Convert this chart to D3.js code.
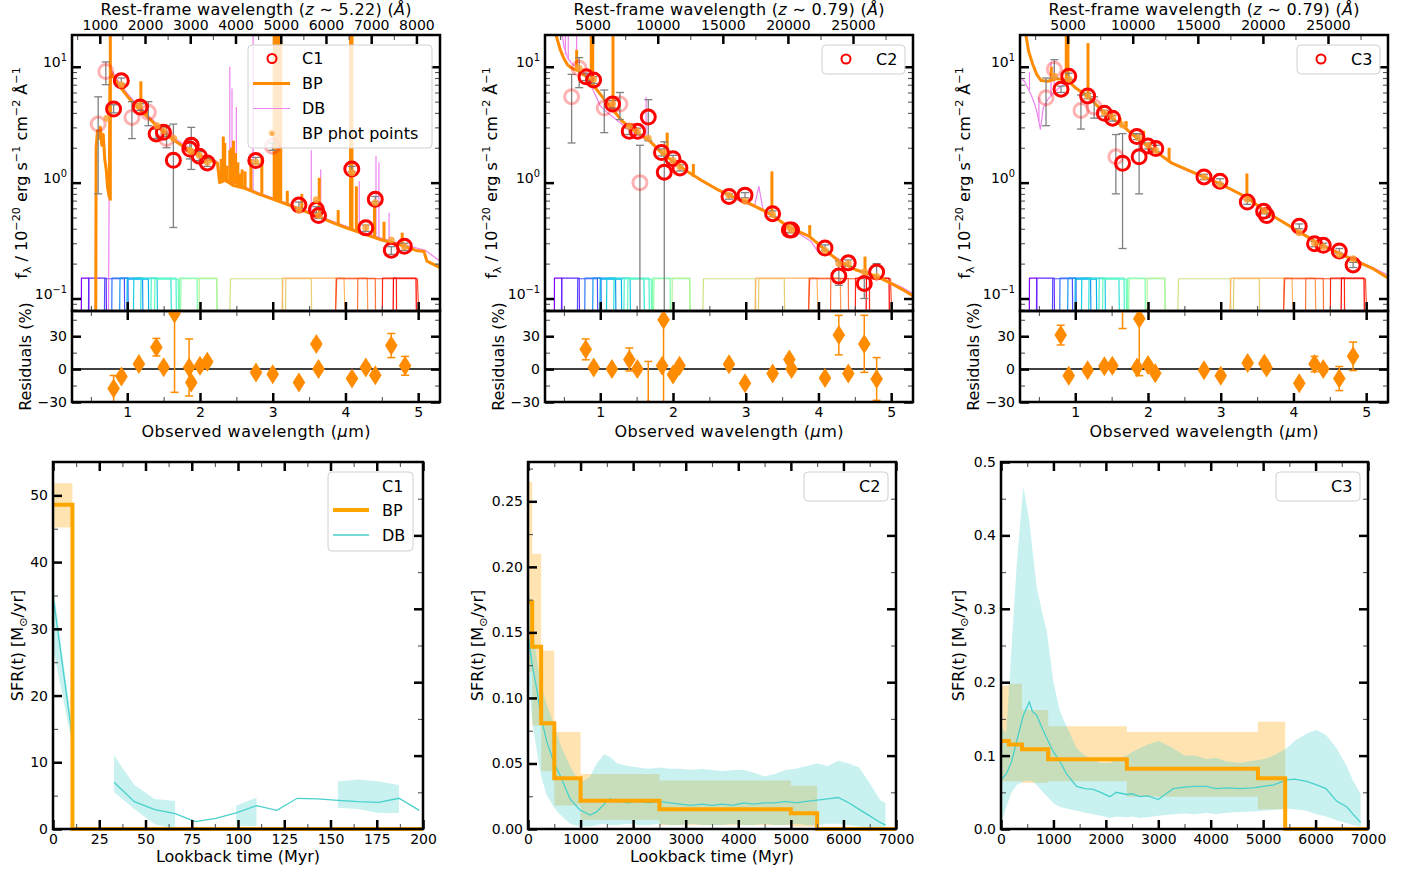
<!DOCTYPE html>
<html>
<head>
<meta charset="utf-8">
<script src="https://cdn.jsdelivr.net/npm/d3@7"></script>
<style>
  body { margin: 0; background: #fff; }
</style>
</head>
<body>
<script>
// ---------- data ----------

// photometric filter passbands (observed micron), drawn at the bottom of every SED panel
const filterBands = [[0.37,0.47],[0.47,0.71],[0.69,0.96],[0.79,1.01],[0.9,1.21],[1.0,1.29],[1.09,1.41],
  [1.19,1.6],[1.33,1.67],[1.38,1.7],[1.72,1.96],[1.74,2.23],[1.99,2.23],[2.42,3.13],[3.18,3.53],
  [3.14,3.98],[3.87,4.30],[4.17,4.41],[3.88,4.99],[4.51,4.7],[4.66,4.97]];
const filterPeak = [0.15,0.15,0.148,0.15,0.15,0.147,0.15,0.148,0.15,0.147,0.15,0.148,0.15,0.148,0.148,
  0.15,0.15,0.149,0.148,0.15,0.15];

// observed photometry: [wave um, flux, err low, err high, faded]
const c1Obs = [[0.60,3.2,0.8,5.5,1],[0.705,9.1,7.0,11.0,1],[0.812,4.32,4.0,4.7,0],[0.918,7.57,7.1,8.0,0],
  [1.064,3.65,2.4,5.0,1],[1.178,4.49,4.2,4.8,0],[1.29,4.04,3.1,5.0,1],[1.397,2.63,2.4,2.9,0],
  [1.497,2.72,2.5,3.0,0],[1.54,2.4,2.0,3.1,1],[1.634,1.56,0.41,3.2,0],[1.86,1.95,1.6,2.4,0],
  [1.88,2.1,1.3,3.0,0],[1.99,1.69,1.55,1.85,0],[2.10,1.48,1.38,1.6,0],[2.767,1.55,1.45,1.65,0],
  [2.996,2.06,1.9,2.2,1],[3.36,0.64,0.6,0.68,0],[3.60,0.585,0.55,0.62,0],[3.63,0.52,0.49,0.55,0],
  [4.087,1.31,1.24,1.38,0],[4.28,0.407,0.38,0.43,0],[4.41,0.72,0.68,0.76,0],[4.63,0.261,0.24,0.28,0],
  [4.81,0.282,0.26,0.3,0]];
const c2Obs = [[0.606,5.5,2.2,8.6,1],[0.71,9.7,6.6,12,1],[0.804,8.2,7.6,8.8,0],[0.908,7.7,7.2,8.2,0],
  [1.055,4.4,2.7,6.3,1],[1.169,4.77,4.4,5.1,0],[1.27,4.77,3.5,6.0,1],[1.398,2.77,2.6,2.95,0],
  [1.512,2.77,2.6,2.95,0],[1.545,1.0,0.01,2.1,1],[1.66,3.68,2.3,5.2,0],[1.842,1.82,1.7,1.95,0],
  [1.88,1.23,0.01,2.25,0],[2.0,1.61,1.5,1.72,0],[2.095,1.34,1.26,1.42,0],[2.77,0.76,0.72,0.8,0],
  [2.99,0.78,0.74,0.82,0],[3.37,0.54,0.51,0.57,0],[3.6,0.39,0.37,0.41,0],[3.63,0.39,0.37,0.41,0],
  [4.09,0.273,0.26,0.29,0],[4.28,0.156,0.13,0.21,0],[4.41,0.203,0.19,0.215,0],[4.63,0.135,0.1,0.17,0],
  [4.8,0.169,0.15,0.2,0]];
const c3Obs = [[0.598,5.4,3.1,8.0,1],[0.712,9.5,8.0,11.5,1],[0.804,6.4,6.0,6.8,0],[0.91,8.3,7.8,8.8,0],
  [1.078,4.2,2.9,5.7,1],[1.17,5.6,5.3,5.9,0],[1.26,4.5,3.6,5.5,1],[1.40,3.97,3.75,4.2,0],
  [1.513,3.6,3.4,3.8,0],[1.558,1.67,0.8,2.6,1],[1.65,1.47,0.27,2.65,0],[1.846,2.5,2.35,2.65,0],
  [1.878,1.67,0.8,2.6,0],[2.0,2.07,1.95,2.2,0],[2.107,1.97,1.85,2.1,0],[2.77,1.12,1.06,1.18,0],
  [2.99,1.03,0.98,1.08,0],[3.365,0.68,0.65,0.71,0],[3.59,0.565,0.54,0.59,0],[3.63,0.52,0.5,0.54,0],
  [4.08,0.42,0.4,0.44,0],[4.29,0.297,0.28,0.31,0],[4.41,0.288,0.275,0.3,0],[4.63,0.257,0.245,0.27,0],
  [4.82,0.195,0.185,0.205,0]];

// BP model photometry: [wave um, flux]
const c1BpPhot = [[0.72,3.6],[0.918,7.0],[1.16,4.6],[1.41,3.1],[1.5,2.8],[1.64,2.4],[1.86,1.9],[1.88,1.85],
  [1.99,1.72],[2.1,1.5],[2.77,1.5],[2.98,2.7],[3.36,0.58],[3.6,0.71],[3.63,0.52],[4.09,1.22],[4.28,0.41],
  [4.41,0.67],[4.63,0.32],[4.81,0.28]];
const c2BpPhot = [[0.71,9.7],[0.908,7.8],[1.169,4.8],[1.40,3.06],[1.51,2.77],[1.66,2.42],[1.87,1.82],
  [2.0,1.55],[2.095,1.37],[2.77,0.78],[2.99,0.69],[3.37,0.53],[3.6,0.41],[3.63,0.39],[4.09,0.26],
  [4.28,0.2],[4.41,0.2],[4.63,0.17],[4.8,0.155]];
const c3BpPhot = [[0.712,8.3],[0.91,7.8],[1.17,5.6],[1.4,4.0],[1.513,3.7],[1.65,3.15],[1.87,2.45],
  [2.0,2.1],[2.107,1.9],[2.77,1.12],[2.99,0.97],[3.365,0.72],[3.6,0.57],[4.08,0.37],[4.29,0.3],
  [4.41,0.28],[4.63,0.24],[4.82,0.22]];

// model spectra: continuum [wave, flux] and emission lines [wave, base, peak]
const c1BpCont = [[0.55,0.05],[0.566,0.06],[0.572,2.0],[0.59,2.8],[0.61,2.4],[0.63,3.0],[0.65,2.1],
  [0.67,2.6],[0.69,1.6],[0.71,1.3],[0.73,0.9],[0.752,0.75],[0.762,7.0],[0.78,8.8],[0.82,8.0],[0.9,6.7],
  [1.0,5.6],[1.1,4.7],[1.2,4.1],[1.3,3.6],[1.4,3.1],[1.5,2.75],[1.63,2.35],[1.8,2.0],[2.0,1.7],
  [2.15,1.55],[2.24,1.47],[2.27,1.0],[2.35,1.05],[2.45,0.95],[2.6,0.9],[2.8,0.8],[3.0,0.72],[3.14,0.67],
  [3.4,0.58],[3.6,0.52],[3.83,0.45],[4.0,0.41],[4.2,0.37],[4.5,0.32],[4.75,0.29],[4.97,0.26],
  [5.08,0.255],[5.12,0.21],[5.3,0.185]];
const c1BpLines = [[0.767,0.7,40],[0.95,6.4,7.2],[1.187,4.15,7.5],[1.27,3.8,4.6],[2.29,1.0,1.6],
  [2.32,1.03,2.5],[2.34,1.02,2.2],[2.37,1.0,1.4],[2.41,1.0,1.9],[2.43,1.0,2.0],[2.46,0.98,2.3],
  [2.49,0.97,1.8],[2.52,0.95,1.5],[2.55,0.93,1.2],[2.58,0.92,1.3],[2.62,0.9,1.25],[2.70,0.86,1.6],
  [2.85,0.8,1.7],[3.02,0.72,40],[3.05,0.71,40],[3.08,0.71,40],[3.11,0.7,40],[3.2,0.65,0.85],
  [3.4,0.58,0.8],[3.64,0.51,1.1],[3.9,0.44,0.58],[4.07,0.4,40],[4.09,0.4,40],[4.15,0.39,0.93],
  [4.4,0.34,0.65],[4.53,0.32,0.46],[4.78,0.28,0.37]];
const c1DbCont = [[0.74,0.05],[0.76,9.5],[0.8,9.0],[0.9,7.1],[1.0,5.9],[1.1,5.0],[1.2,4.3],[1.4,3.25],
  [1.63,2.45],[2.0,1.75],[2.24,1.52],[2.27,1.05],[2.5,0.98],[2.8,0.82],[3.1,0.7],[3.5,0.56],[3.8,0.47],
  [4.1,0.4],[4.5,0.33],[4.9,0.28],[5.1,0.26],[5.3,0.21]];
const c1DbLines = [[0.767,9,40],[2.41,1.0,10],[2.44,1.0,6.5],[2.5,0.98,4.5],[2.73,0.85,25],[3.02,0.72,40],
  [3.11,0.7,40],[3.53,0.55,1.9],[3.66,0.52,1.3],[4.08,0.41,40],[4.19,0.39,1.03],[4.42,0.35,1.7],
  [4.46,0.34,1.5],[4.6,0.31,0.55]];

const c2BpCont = [[0.3,40],[0.36,24],[0.4,18],[0.45,14],[0.5,11.8],[0.55,10.4],[0.6,9.8],[0.7,9.2],
  [0.8,8.3],[0.9,7.0],[1.0,5.8],[1.1,4.8],[1.17,4.3],[1.3,3.4],[1.5,2.7],[1.66,2.35],[1.85,1.8],
  [2.03,1.48],[2.16,1.29],[2.39,1.05],[2.6,0.88],[2.77,0.78],[2.99,0.69],[3.33,0.54],[3.6,0.41],
  [3.87,0.345],[4.1,0.26],[4.28,0.21],[4.51,0.177],[4.8,0.155],[5.0,0.135],[5.15,0.12],[5.3,0.105]];
const c2BpLines = [[0.675,9.4,14],[0.876,7.2,40],[0.896,7.0,40],[1.175,4.3,40],[1.92,1.65,2.7],
  [2.28,1.12,1.45],[3.36,0.53,1.25],[3.88,0.34,0.43],[4.64,0.165,0.23]];
const c2DbCont = [[0.45,24],[0.5,15],[0.55,12],[0.6,10.8],[0.7,9.6],[0.8,8.6],[0.9,6.3],[1.0,4.6],
  [1.1,4.0],[1.27,3.3],[1.4,2.8],[1.55,2.5],[1.7,2.2],[1.85,1.75],[2.05,1.45],[2.4,1.02],[2.77,0.76],
  [3.0,0.66],[3.12,0.62],[3.18,0.93],[3.24,0.58],[3.6,0.41],[3.9,0.31],[4.0,0.25],[4.2,0.235],
  [4.5,0.18],[4.8,0.155],[5.15,0.125],[5.3,0.11]];
const c2DbLines = [[0.52,12.8,40],[0.56,11.5,40],[0.675,9.4,40],[0.876,7,40],[0.896,6.8,40],
  [1.175,4.0,40],[1.63,2.3,5.5]];

const c3BpCont = [[0.28,40],[0.32,19],[0.36,13.5],[0.415,10.5],[0.47,8.6],[0.53,7.6],[0.62,7.5],
  [0.75,7.9],[0.9,7.6],[1.0,6.6],[1.17,5.6],[1.4,4.0],[1.65,3.1],[1.87,2.35],[2.1,1.87],[2.33,1.47],
  [2.55,1.28],[2.77,1.12],[3.0,0.97],[3.37,0.74],[3.6,0.57],[3.85,0.46],[4.08,0.375],[4.38,0.29],
  [4.63,0.245],[4.9,0.205],[5.1,0.18],[5.3,0.15]];
const c3BpLines = [[0.67,7.5,10],[0.876,7.6,30],[0.9,7.5,40],[1.175,5.4,16],[1.62,3.2,3.6],
  [1.7,3.0,3.4],[1.94,2.2,2.8],[2.29,1.5,2.0],[3.36,0.74,1.2]];
const c3DbCont = [[0.27,7.8],[0.3,7.5],[0.35,6.5],[0.4,5.6],[0.44,4.8],[0.48,3.9],[0.52,2.9],[0.56,4.4],
  [0.62,5.2],[0.71,6.0],[0.78,6.6],[0.85,7.1],[0.95,7.2],[1.05,6.2],[1.17,5.5],[1.4,3.95],[1.65,3.05],
  [1.87,2.3],[2.1,1.85],[2.33,1.45],[2.77,1.1],[3.0,0.96],[3.37,0.73],[3.6,0.58],[4.08,0.38],
  [4.38,0.3],[4.63,0.25],[4.9,0.21],[5.3,0.16]];
const c3DbLines = [[0.37,6.3,9],[0.5,3.4,5.5],[0.667,5.6,11],[0.71,6,10],[0.876,7,12],[0.9,7,14]];

// residuals: [wave, %, err]
const c1Resid = [[0.812,-17.8,12],[0.92,-6.7,3],[1.16,4.6,3],[1.40,20,8],[1.50,1.6,3],[1.65,50.8,72],
  [1.85,1.5,26],[1.88,-12.3,3],[2.0,3,3],[2.1,6.7,3],[2.77,-3,3],[3.0,-4.6,3],[3.36,-12.3,3],
  [3.6,23,3],[3.63,0,3],[4.09,-8.6,3],[4.28,1.5,3],[4.41,-5.5,3],[4.63,21.5,11],[4.82,3,8.6]];
const c2Resid = [[0.8,18,9.5],[0.91,1.4,3],[1.16,0,3],[1.4,8.8,10.5],[1.51,0,3],[1.66,-36,43],
  [1.85,3,3],[1.87,45,80],[2.0,-5,3],[2.09,3,3],[2.77,4.5,3],[2.99,-13,3],[3.37,-4,3],[3.6,8.8,3],
  [3.63,0,3],[4.09,-8,3],[4.28,31,18],[4.41,-4,3],[4.63,23,26],[4.8,-9,19.5]];
const c3Resid = [[0.8,31,9],[0.91,-6,3],[1.17,-1,3],[1.4,2.5,3],[1.51,3,3],[1.65,70,33],[1.85,1.5,3],
  [1.88,46,52],[2.0,3.7,3],[2.1,-3.7,3],[2.77,-1,3],[3.0,-6,3],[3.37,5.5,3],[3.6,5.2,3],[3.63,1.5,3],
  [4.08,-13,3],[4.29,4.6,7],[4.41,0,3],[4.63,-8.6,11],[4.82,11.7,13]];

// star formation histories
const c1BpEdges = [0, 10.5, 200];
const c1BpSfr = [48.6, 0];
const c1BpLo = [45.2, 0];
const c1BpHi = [51.8, 0];
const c1DbTime = [0.5, 11, 22, 33, 44, 55, 66, 77, 88, 99, 110, 121, 132, 143, 154, 165, 176, 187, 198];
const c1DbSfr = [34, 12.6, null, 7.0, 4.1, 2.9, 2.3, 1.1, 1.6, 2.4, 3.5, 2.8, 4.6, 4.5, 4.3, 4.1, 4.0, 4.6, 2.8];
const c1DbLo = [26.5, 11.8, null, 5.5, 3.0, 0.7, 0.0, null, null, 0.5, 0.4, null, null, null, 3.2, 3.0, 2.4, 2.4, null];
const c1DbHi = [35.5, 14.0, null, 11.0, 6.6, 4.5, 4.2, null, null, 3.5, 4.7, null, null, null, 7.1, 7.4, 7.1, 6.6, null];

const c2BpEdges = [0, 80, 250, 500, 1000, 2500, 5000, 5500, 7000];
const c2BpSfr = [0.173, 0.139, 0.0807, 0.0387, 0.0216, 0.015, 0.012, 0];
const c2BpLo = [0.12, 0.079, 0.044, 0.018, 0.007, 0.003, 0.002, 0];
const c2BpHi = [0.265, 0.21, 0.136, 0.074, 0.042, 0.037, 0.033, 0];
const c2DbTime = [0, 80, 165, 250, 355, 500, 609, 800, 989, 1180, 1306, 1450, 1560, 1700, 1900, 2100,
  2300, 2500, 2700, 2900, 3100, 3300, 3500, 3700, 3900, 4100, 4300, 4500, 4700, 4900, 5100, 5300, 5500,
  5700, 5900, 6100, 6300, 6500, 6700, 6800];
const c2DbSfr = [0.148, 0.125, 0.107, 0.085, 0.067, 0.05, 0.041, 0.023, 0.0145, 0.0107, 0.013, 0.019,
  0.023, 0.021, 0.02, 0.021, 0.02, 0.021, 0.02, 0.019, 0.018, 0.019, 0.018, 0.019, 0.018, 0.02, 0.019,
  0.02, 0.02, 0.021, 0.02, 0.021, 0.022, 0.023, 0.024, 0.02, 0.015, 0.01, 0.005, 0.003];
const c2DbLo = [0.12, 0.082, 0.06, 0.04, 0.026, 0.016, 0.011, 0.004, 0.002, 0.002, 0.003, 0.004, 0.003,
  0.003, 0.004, 0.003, 0.003, 0.004, 0.003, 0.003, 0.004, 0.003, 0.003, 0.003, 0.004, 0.003, 0.003,
  0.004, 0.003, 0.003, 0.004, 0.003, 0.003, 0.004, 0.004, 0.003, 0.002, 0.001, 0.0, 0.0];
const c2DbHi = [0.19, 0.16, 0.13, 0.11, 0.095, 0.08, 0.065, 0.048, 0.035, 0.04, 0.05, 0.057, 0.055,
  0.05, 0.048, 0.047, 0.046, 0.047, 0.046, 0.046, 0.045, 0.046, 0.045, 0.044, 0.045, 0.045, 0.043,
  0.04, 0.042, 0.045, 0.046, 0.048, 0.05, 0.048, 0.052, 0.05, 0.047, 0.035, 0.022, 0.02];

const c3BpEdges = [0, 150, 400, 900, 2400, 4900, 5420, 7000];
const c3BpSfr = [0.12, 0.115, 0.1086, 0.095, 0.082, 0.069, 0];
const c3BpLo = [0.065, 0.065, 0.063, 0.065, 0.044, 0.027, 0];
const c3BpHi = [0.195, 0.198, 0.162, 0.14, 0.132, 0.146, 0];
const c3DbTime = [0, 100, 203, 300, 426, 540, 600, 680, 800, 871, 1000, 1125, 1250, 1443, 1600, 1760,
  1900, 2078, 2200, 2396, 2500, 2650, 2800, 3000, 3150, 3286, 3500, 3700, 3922, 4100, 4300, 4558, 4800,
  5003, 5200, 5448, 5600, 5830, 6020, 6200, 6400, 6600, 6718, 6858];
const c3DbSfr = [0.067, 0.075, 0.092, 0.12, 0.155, 0.173, 0.16, 0.155, 0.135, 0.124, 0.105, 0.092, 0.075,
  0.058, 0.055, 0.054, 0.05, 0.044, 0.05, 0.047, 0.048, 0.044, 0.045, 0.040, 0.048, 0.055, 0.057, 0.058,
  0.058, 0.055, 0.056, 0.055, 0.056, 0.058, 0.06, 0.067, 0.068, 0.065, 0.06, 0.055, 0.038, 0.03, 0.020, 0.009];
const c3DbLo = [0.005, 0.03, 0.05, 0.06, 0.065, 0.066, 0.065, 0.06, 0.05, 0.045, 0.035, 0.03, 0.028, 0.025,
  0.022, 0.02, 0.018, 0.015, 0.017, 0.016, 0.017, 0.015, 0.016, 0.018, 0.019, 0.02, 0.021, 0.02, 0.022,
  0.02, 0.022, 0.023, 0.024, 0.025, 0.026, 0.028, 0.027, 0.025, 0.02, 0.017, 0.012, 0.008, 0.005, 0.003];
const c3DbHi = [0.14, 0.13, 0.25, 0.36, 0.466, 0.42, 0.38, 0.33, 0.29, 0.27, 0.2, 0.16, 0.14, 0.11, 0.1,
  0.095, 0.09, 0.09, 0.095, 0.1, 0.105, 0.11, 0.115, 0.12, 0.115, 0.11, 0.1, 0.1, 0.095, 0.097, 0.092,
  0.09, 0.093, 0.095, 0.1, 0.11, 0.12, 0.13, 0.135, 0.128, 0.11, 0.085, 0.065, 0.048];

// ---------- layout / style ----------
const FONT = "DejaVu Sans";
const BP_SED = "#ff8c00", DB_SED = "#ee82ee", BP_SFH = "#ffa500", DB_SFH = "#48d1cc";
const SED_Y0 = 35, SED_Y1 = 311, RES_Y1 = 402, SFH_Y0 = 462, SFH_Y1 = 829;
const obsDomain = [0.24, 5.3], fluxDomain = [0.078, 18.8], residDomain = [-30, 53];

const svg = d3.select("body").append("svg")
  .attr("width", 1416).attr("height", 877)
  .attr("font-family", FONT);

function rainbow(t) {
  const c = v => Math.max(0, Math.min(1, v)) * 255;
  return d3.rgb(c(Math.abs(2 * t - 0.5)), c(Math.sin(Math.PI * t)), c(Math.cos(Math.PI * t / 2))).toString();
}

// text with super/subscripts: parts = [[text, mode]]
function rich(sel, parts, size) {
  let cur = 0;
  parts.forEach(([t, m]) => {
    const ts = sel.append("tspan").text(t);
    let target = 0, fs = size;
    if (m === "sup") { target = -size * 0.42; fs = size * 0.7; }
    if (m === "sub") { target = size * 0.22; fs = size * 0.7; }
    if (m === "it") ts.attr("font-style", "italic");
    ts.attr("dy", target - cur).attr("font-size", fs);
    cur = target;
  });
}

function ticks(g, kind, scale, vals, major, tr, fmt) {
  const fn = { bottom: d3.axisBottom, top: d3.axisTop, left: d3.axisLeft, right: d3.axisRight }[kind];
  const a = g.append("g").attr("transform", tr || null)
    .call(fn(scale).tickValues(vals).tickSize(major ? -9 : -5).tickPadding(5)
      .tickFormat(fmt || (() => "")));
  a.select(".domain").remove();
  a.attr("font-family", FONT).attr("font-size", 14);
  a.selectAll(".tick line").attr("stroke", major ? "#000" : "#555").attr("stroke-width", major ? 2.5 : 1.1);
  a.selectAll(".tick text").attr("fill", "#000");
  return a;
}

function range(a, b, s) { return d3.range(a, b + s / 1000, s); }

let clipN = 0;
function clip(g, w, h) {
  const id = "clip" + (clipN++);
  svg.append("clipPath").attr("id", id).append("rect").attr("width", w).attr("height", h);
  return g.append("g").attr("clip-path", `url(#${id})`);
}

function frame(g, w, h) {
  g.append("rect").attr("width", w).attr("height", h)
    .attr("fill", "none").attr("stroke", "#000").attr("stroke-width", 2.5);
}

// ---------- SED panels ----------
function drawSed(p) {
  const w = p.x1 - p.x0, h = SED_Y1 - SED_Y0, rh = RES_Y1 - SED_Y1;
  const x = d3.scaleLinear().domain(obsDomain).range([0, w]);
  const y = d3.scaleLog().domain(fluxDomain).range([h, 0]);
  const xr = d3.scaleLinear().domain(obsDomain.map(v => v * 1e4 / (1 + p.z))).range([0, w]);
  const g = svg.append("g").attr("transform", `translate(${p.x0},${SED_Y0})`);
  const plot = clip(g, w, h);
  const line = d3.line().x(d => x(d[0])).y(d => y(d[1]));

  // filters
  filterBands.forEach((b, i) => {
    const ramp = (b[1] - b[0]) * 0.06;
    const pts = [[b[0] - ramp, 0.01], [b[0], filterPeak[i]], [b[1], filterPeak[i]], [b[1] + ramp, 0.01]];
    plot.append("path").attr("d", line(pts)).attr("fill", "none")
      .attr("stroke", rainbow(i / (filterBands.length - 1))).attr("stroke-width", 1.2)
      .attr("stroke-linejoin", "round");
  });

  // model spectra
  function spectrum(cont, lines, color, sw) {
    plot.append("path").attr("d", line(cont)).attr("fill", "none")
      .attr("stroke", color).attr("stroke-width", sw).attr("stroke-linejoin", "round");
    plot.selectAll(null).data(lines).join("line")
      .attr("x1", d => x(d[0])).attr("x2", d => x(d[0]))
      .attr("y1", d => y(d[1])).attr("y2", d => y(d[2]))
      .attr("stroke", color).attr("stroke-width", sw);
  }
  spectrum(p.dbCont, p.dbLines, DB_SED, 1.2);
  spectrum(p.bpCont, p.bpLines, BP_SED, 3);

  // error bars
  const eb = plot.append("g").attr("stroke", "#808080").attr("stroke-width", 1.3);
  p.obs.forEach(d => {
    eb.append("line").attr("x1", x(d[0])).attr("x2", x(d[0])).attr("y1", y(d[2])).attr("y2", y(d[3]));
    [d[2], d[3]].forEach(v => eb.append("line").attr("x1", x(d[0]) - 4).attr("x2", x(d[0]) + 4)
      .attr("y1", y(v)).attr("y2", y(v)));
  });
  plot.selectAll(null).data(p.obs).join("circle")
    .attr("cx", d => x(d[0])).attr("cy", d => y(d[1])).attr("r", 7)
    .attr("fill", "none").attr("stroke", "red").attr("stroke-width", 3)
    .attr("opacity", d => d[4] ? 0.3 : 1);
  plot.selectAll(null).data(p.phot).join("circle")
    .attr("cx", d => x(d[0])).attr("cy", d => y(d[1])).attr("r", 3.5)
    .attr("fill", "#ffa030").attr("opacity", 0.8);

  // ticks
  const logMajor = [0.1, 1, 10];
  const logMinor = [0.08, 0.09, 0.2, 0.3, 0.4, 0.5, 0.6, 0.7, 0.8, 0.9, 2, 3, 4, 5, 6, 7, 8, 9];
  const la = ticks(g, "left", y, logMajor, true, null, d => d);
  la.selectAll(".tick text").each(function (v) {
    const t = d3.select(this).text("");
    rich(t, [["10", 0], [String(Math.round(Math.log10(v))).replace("-", "\u2212"), "sup"]], 14);
  });
  ticks(g, "left", y, logMinor, false);
  ticks(g, "right", y, logMajor, true, `translate(${w},0)`);
  ticks(g, "right", y, logMinor, false, `translate(${w},0)`);
  ticks(g, "bottom", x, [1, 2, 3, 4, 5], true, `translate(0,${h})`);
  ticks(g, "bottom", x, [0.5, 1.5, 2.5, 3.5, 4.5], false, `translate(0,${h})`);
  ticks(g, "top", xr, p.restMajor, true, null, d3.format("d"));
  ticks(g, "top", xr, p.restMinor, false);
  frame(g, w, h);

  // axis titles
  const tt = svg.append("text").attr("x", (p.x0 + p.x1) / 2).attr("y", 15)
    .attr("text-anchor", "middle").attr("font-size", 16)
    .attr("textLength", 311).attr("lengthAdjust", "spacing");
  rich(tt, [["Rest-frame wavelength (", 0], ["z", "it"], [" \u223c " + p.zLabel + ") (", 0], ["\u00c5", "it"], [")", 0]], 16);
  const yl = svg.append("text").attr("transform", `translate(${p.ylx},${(SED_Y0 + SED_Y1) / 2}) rotate(-90)`)
    .attr("text-anchor", "middle").attr("font-size", 16);
  rich(yl, [["f", 0], ["\u03bb", "sub"], [" / 10", 0], ["\u221220", "sup"], [" erg s", 0], ["\u22121", "sup"],
    [" cm", 0], ["\u22122", "sup"], [" \u00c5", 0], ["\u22121", "sup"]], 16);

  // legend
  const lg = g.append("g").attr("transform", `translate(${w},0)`).attr("font-size", 16);
  if (p.full) {
    lg.append("rect").attr("x", -192).attr("y", 10).attr("width", 184).attr("height", 103).attr("rx", 4)
      .attr("fill", "#fff").attr("fill-opacity", 0.8).attr("stroke", "#d0d0d0");
    lg.append("circle").attr("cx", -168).attr("cy", 23.5).attr("r", 4.5).attr("fill", "none")
      .attr("stroke", "red").attr("stroke-width", 2);
    lg.append("line").attr("x1", -187).attr("x2", -150).attr("y1", 48.5).attr("y2", 48.5)
      .attr("stroke", BP_SED).attr("stroke-width", 3);
    lg.append("line").attr("x1", -187).attr("x2", -150).attr("y1", 73.5).attr("y2", 73.5)
      .attr("stroke", DB_SED).attr("stroke-width", 1.2);
    lg.append("circle").attr("cx", -168).attr("cy", 98.5).attr("r", 2.5).attr("fill", "#ffa030").attr("opacity", 0.8);
    [p.name, "BP", "DB", "BP phot points"].forEach((s, i) => lg.append("text")
      .attr("x", -138).attr("y", 23.5 + 25 * i).attr("dy", "0.35em").text(s));
  } else {
    lg.append("rect").attr("x", -91).attr("y", 10).attr("width", 83).attr("height", 29).attr("rx", 4)
      .attr("fill", "#fff").attr("fill-opacity", 0.8).attr("stroke", "#d0d0d0");
    lg.append("circle").attr("cx", -67).attr("cy", 24).attr("r", 4.5).attr("fill", "none")
      .attr("stroke", "red").attr("stroke-width", 2);
    lg.append("text").attr("x", -37).attr("y", 24).attr("dy", "0.35em").text(p.name);
  }

  // residual panel
  const rg = svg.append("g").attr("transform", `translate(${p.x0},${SED_Y1})`);
  const ry = d3.scaleLinear().domain(residDomain).range([rh, 0]);
  const rplot = clip(rg, w, rh);
  rplot.append("line").attr("x1", 0).attr("x2", w).attr("y1", ry(0)).attr("y2", ry(0))
    .attr("stroke", "#000").attr("stroke-width", 1.5);
  const reb = rplot.append("g").attr("stroke", BP_SED).attr("stroke-width", 1.5);
  p.resid.forEach(d => {
    reb.append("line").attr("x1", x(d[0])).attr("x2", x(d[0])).attr("y1", ry(d[1] - d[2])).attr("y2", ry(d[1] + d[2]));
    [d[1] - d[2], d[1] + d[2]].forEach(v => reb.append("line").attr("x1", x(d[0]) - 4).attr("x2", x(d[0]) + 4)
      .attr("y1", ry(v)).attr("y2", ry(v)));
  });
  rplot.selectAll(null).data(p.resid).join("path")
    .attr("transform", d => `translate(${x(d[0])},${ry(d[1])})`)
    .attr("d", "M0,-10L6.3,0L0,10L-6.3,0Z").attr("fill", BP_SED);
  const fmtR = d => String(d).replace("-", "\u2212");
  ticks(rg, "left", ry, [-30, 0, 30], true, null, fmtR);
  ticks(rg, "left", ry, [-15, 15, 45], false);
  ticks(rg, "right", ry, [-30, 0, 30], true, `translate(${w},0)`);
  ticks(rg, "right", ry, [-15, 15, 45], false, `translate(${w},0)`);
  ticks(rg, "bottom", x, [1, 2, 3, 4, 5], true, `translate(0,${rh})`, d3.format("d"));
  ticks(rg, "bottom", x, [0.5, 1.5, 2.5, 3.5, 4.5], false, `translate(0,${rh})`);
  ticks(rg, "top", x, [1, 2, 3, 4, 5], true);
  ticks(rg, "top", x, [0.5, 1.5, 2.5, 3.5, 4.5], false);
  frame(rg, w, rh);
  svg.append("text").attr("transform", `translate(${p.rlx},${(SED_Y1 + RES_Y1) / 2}) rotate(-90)`)
    .attr("text-anchor", "middle").attr("font-size", 16).text("Residuals (%)");
  const xl = svg.append("text").attr("x", (p.x0 + p.x1) / 2).attr("y", 437)
    .attr("text-anchor", "middle").attr("font-size", 16)
    .attr("textLength", 229).attr("lengthAdjust", "spacing");
  rich(xl, [["Observed wavelength (", 0], ["\u03bc", "it"], ["m)", 0]], 16);
}

// ---------- SFH panels ----------
function drawSfh(p) {
  const w = p.x1 - p.x0, h = SFH_Y1 - SFH_Y0;
  const x = d3.scaleLinear().domain(p.xDomain).range([0, w]);
  const y = d3.scaleLinear().domain(p.yDomain).range([h, 0]);
  const g = svg.append("g").attr("transform", `translate(${p.x0},${SFH_Y0})`);
  const plot = clip(g, w, h + 2);

  const bp = p.bpEdges.map((e, i) => {
    const k = Math.min(i, p.bpSfr.length - 1);
    return { t: e, v: p.bpSfr[k], lo: p.bpLo[k], hi: p.bpHi[k] };
  });
  const db = p.dbTime.map((t, i) => ({ t, v: p.dbSfr[i], lo: p.dbLo[i], hi: p.dbHi[i] }));

  plot.append("path").datum(bp)
    .attr("d", d3.area().curve(d3.curveStepAfter).x(d => x(d.t)).y0(d => y(d.lo)).y1(d => y(d.hi)))
    .attr("fill", BP_SFH).attr("fill-opacity", 0.3);
  plot.append("path").datum(db)
    .attr("d", d3.area().defined(d => d.lo != null).x(d => x(d.t)).y0(d => y(d.lo)).y1(d => y(d.hi)))
    .attr("fill", DB_SFH).attr("fill-opacity", 0.3);
  plot.append("path").datum(db)
    .attr("d", d3.line().defined(d => d.v != null).x(d => x(d.t)).y(d => y(d.v)))
    .attr("fill", "none").attr("stroke", DB_SFH).attr("stroke-width", 1.3);
  plot.append("path").datum(bp)
    .attr("d", d3.line().curve(d3.curveStepAfter).x(d => x(d.t)).y(d => y(d.v)))
    .attr("fill", "none").attr("stroke", BP_SFH).attr("stroke-width", 4);

  ticks(g, "left", y, p.yMajor, true, null, p.yFmt);
  ticks(g, "left", y, p.yMinor, false);
  const yr = d3.scaleLinear().domain([0, 1]).range([h, 0]);
  ticks(g, "right", yr, [0.2, 0.4, 0.6, 0.8], true, `translate(${w},0)`);
  ticks(g, "right", yr, [0.1, 0.3, 0.5, 0.7, 0.9], false, `translate(${w},0)`);
  ticks(g, "bottom", x, p.xMajor, true, `translate(0,${h})`, d3.format("d"));
  ticks(g, "bottom", x, p.xMinor, false, `translate(0,${h})`);
  ticks(g, "top", x, p.xMajor, true);
  ticks(g, "top", x, p.xMinor, false);
  frame(g, w, h);

  const yl = svg.append("text").attr("transform", `translate(${p.ylx},${(SFH_Y0 + SFH_Y1) / 2}) rotate(-90)`)
    .attr("text-anchor", "middle").attr("font-size", 16);
  rich(yl, [["SFR(t) [M", 0], ["\u2299", "sub"], ["/yr]", 0]], 16);
  if (p.xlabel) svg.append("text").attr("x", (p.x0 + p.x1) / 2).attr("y", 862)
    .attr("text-anchor", "middle").attr("font-size", 16).text("Lookback time (Myr)");

  const lg = g.append("g").attr("transform", `translate(${w},0)`).attr("font-size", 16);
  if (p.full) {
    lg.append("rect").attr("x", -95).attr("y", 10).attr("width", 85).attr("height", 79).attr("rx", 4)
      .attr("fill", "#fff").attr("fill-opacity", 0.8).attr("stroke", "#d0d0d0");
    lg.append("line").attr("x1", -90).attr("x2", -54).attr("y1", 48).attr("y2", 48)
      .attr("stroke", BP_SFH).attr("stroke-width", 4);
    lg.append("line").attr("x1", -90).attr("x2", -54).attr("y1", 73).attr("y2", 73)
      .attr("stroke", DB_SFH).attr("stroke-width", 1.3);
    [p.name, "BP", "DB"].forEach((s, i) => lg.append("text")
      .attr("x", -41).attr("y", 24 + 24.6 * i).attr("dy", "0.35em").text(s));
  } else {
    lg.append("rect").attr("x", -92).attr("y", 10).attr("width", 84).attr("height", 29).attr("rx", 4)
      .attr("fill", "#fff").attr("fill-opacity", 0.8).attr("stroke", "#d0d0d0");
    lg.append("text").attr("x", -37).attr("y", 24).attr("dy", "0.35em").text(p.name);
  }
}

drawSed({ x0: 72, x1: 440, z: 5.22, zLabel: "5.22", name: "C1", full: true, ylx: 27, rlx: 31,
  restMajor: range(1000, 8000, 1000), restMinor: range(500, 8500, 1000),
  obs: c1Obs, phot: c1BpPhot, bpCont: c1BpCont, bpLines: c1BpLines, dbCont: c1DbCont, dbLines: c1DbLines,
  resid: c1Resid });
drawSed({ x0: 545, x1: 913, z: 0.79, zLabel: "0.79", name: "C2", full: false, ylx: 497, rlx: 504,
  restMajor: range(5000, 25000, 5000), restMinor: range(2500, 27500, 5000),
  obs: c2Obs, phot: c2BpPhot, bpCont: c2BpCont, bpLines: c2BpLines, dbCont: c2DbCont, dbLines: c2DbLines,
  resid: c2Resid });
drawSed({ x0: 1020, x1: 1388, z: 0.79, zLabel: "0.79", name: "C3", full: false, ylx: 970, rlx: 979,
  restMajor: range(5000, 25000, 5000), restMinor: range(2500, 27500, 5000),
  obs: c3Obs, phot: c3BpPhot, bpCont: c3BpCont, bpLines: c3BpLines, dbCont: c3DbCont, dbLines: c3DbLines,
  resid: c3Resid });

drawSfh({ x0: 53, x1: 423, name: "C1", full: true, xlabel: true, ylx: 23,
  xDomain: [0, 200], yDomain: [0, 55], xMajor: range(0, 200, 25), xMinor: range(12.5, 187.5, 25),
  yMajor: range(0, 50, 10), yMinor: range(5, 55, 10), yFmt: d3.format("d"),
  bpEdges: c1BpEdges, bpSfr: c1BpSfr, bpLo: c1BpLo, bpHi: c1BpHi,
  dbTime: c1DbTime, dbSfr: c1DbSfr, dbLo: c1DbLo, dbHi: c1DbHi });
drawSfh({ x0: 528, x1: 896, name: "C2", full: false, xlabel: true, ylx: 483,
  xDomain: [0, 7000], yDomain: [0, 0.28], xMajor: range(0, 7000, 1000), xMinor: range(500, 6500, 1000),
  yMajor: range(0, 0.25, 0.05), yMinor: range(0.025, 0.275, 0.05), yFmt: d3.format(".2f"),
  bpEdges: c2BpEdges, bpSfr: c2BpSfr, bpLo: c2BpLo, bpHi: c2BpHi,
  dbTime: c2DbTime, dbSfr: c2DbSfr, dbLo: c2DbLo, dbHi: c2DbHi });
drawSfh({ x0: 1001, x1: 1368, name: "C3", full: false, xlabel: false, ylx: 964,
  xDomain: [0, 7000], yDomain: [0, 0.5], xMajor: range(0, 7000, 1000), xMinor: range(500, 6500, 1000),
  yMajor: range(0, 0.5, 0.1), yMinor: range(0.05, 0.45, 0.1), yFmt: d3.format(".1f"),
  bpEdges: c3BpEdges, bpSfr: c3BpSfr, bpLo: c3BpLo, bpHi: c3BpHi,
  dbTime: c3DbTime, dbSfr: c3DbSfr, dbLo: c3DbLo, dbHi: c3DbHi });
</script>
</body>
</html>
